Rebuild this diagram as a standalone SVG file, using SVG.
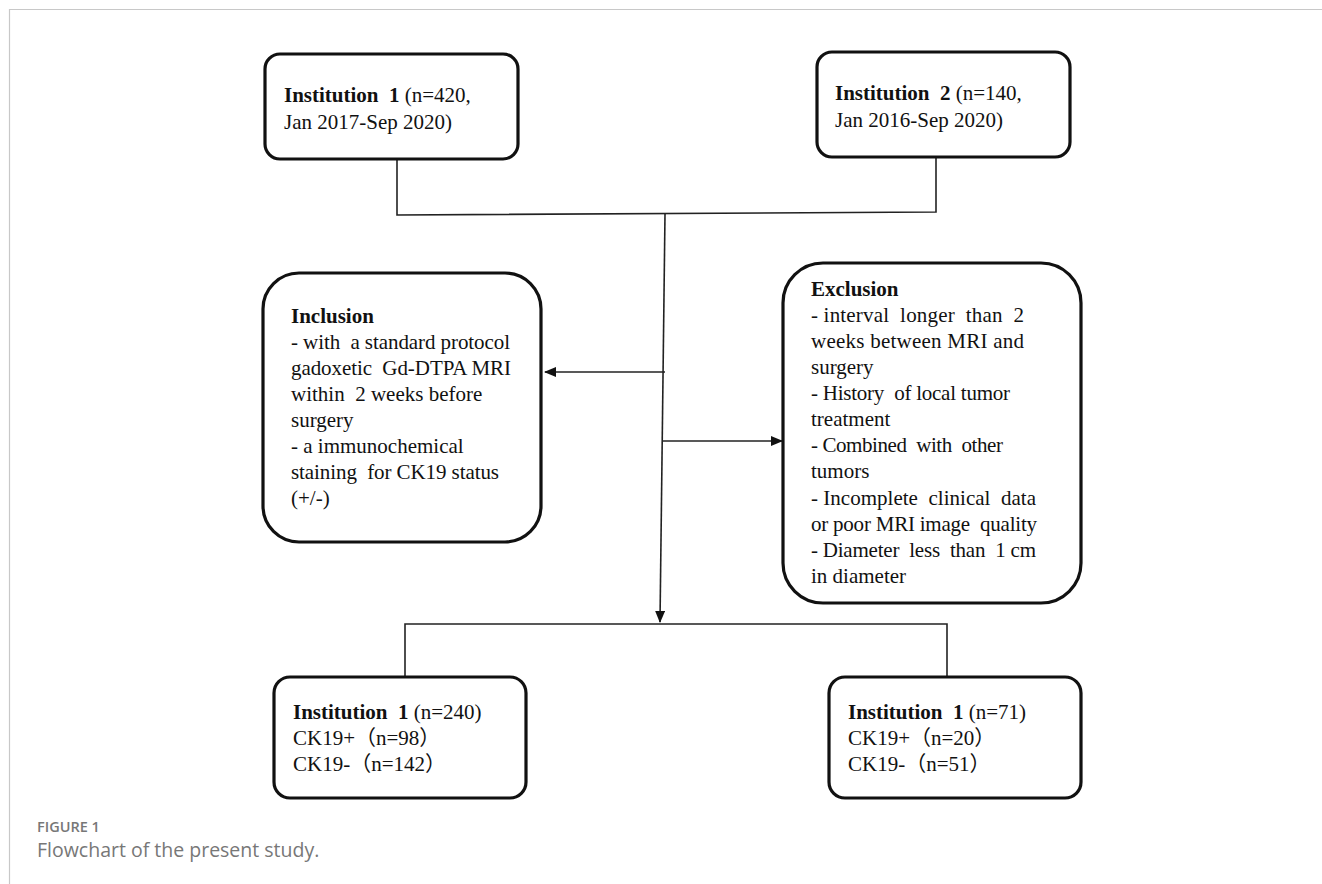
<svg xmlns="http://www.w3.org/2000/svg" width="1322" height="884" viewBox="0 0 1322 884">
<style>
.box{fill:#fff;stroke:#111;stroke-width:3.2}
.ln{fill:none;stroke:#222;stroke-width:1.6}
.t{font-family:"Liberation Serif","Noto Sans CJK SC",serif;font-size:21px;fill:#111;white-space:pre}
.b{font-weight:bold}
.cap1{font-family:"Open Sans","Liberation Sans",sans-serif;font-size:14.5px;font-weight:600;fill:#777}
.cap2{font-family:"Open Sans","Liberation Sans",sans-serif;font-size:19.5px;fill:#777}
</style>
<defs>
<marker id="ah" markerWidth="12" markerHeight="10" refX="11" refY="5" orient="auto" markerUnits="userSpaceOnUse">
<path d="M0,0 L12,5 L0,10 Z" fill="#111"/>
</marker>
</defs>
<rect width="1322" height="884" fill="#fff"/>
<path d="M9.5,884 V9.5 H1322" fill="none" stroke="#c8c8c8" stroke-width="1.2"/>
<g id="connectors">
<path class="ln" d="M397,160 V215 L936,212 V157"/>
<path class="ln" d="M665,214 L660,622" marker-end="url(#ah)"/>
<path class="ln" d="M665,372 H545" marker-end="url(#ah)"/>
<path class="ln" d="M663,441 H782" marker-end="url(#ah)"/>
<path class="ln" d="M405,678 V624 H947 V678"/>
</g>
<g id="inst1">
<rect class="box" x="265" y="54" width="253" height="105" rx="15"/>
<text class="t" x="284" y="102"><tspan class="b">Institution  1</tspan> (n=420,</text>
<text class="t" x="284" y="129">Jan 2017-Sep 2020)</text>
</g>
<g id="inst2">
<rect class="box" x="817" y="52" width="253" height="105" rx="15"/>
<text class="t" x="835" y="100"><tspan class="b">Institution  2</tspan> (n=140,</text>
<text class="t" x="835" y="127">Jan 2016-Sep 2020)</text>
</g>
<g id="inclusion">
<rect class="box" x="263" y="273" width="278" height="269" rx="36"/>
<text class="t b" x="291" y="323">Inclusion</text>
<text class="t" x="291" y="349" textLength="219" lengthAdjust="spacing">- with  a standard protocol</text>
<text class="t" x="291" y="375" textLength="220" lengthAdjust="spacing">gadoxetic  Gd-DTPA MRI</text>
<text class="t" x="291" y="401">within  2 weeks before</text>
<text class="t" x="291" y="427">surgery</text>
<text class="t" x="291" y="453">- a immunochemical</text>
<text class="t" x="291" y="479" textLength="208" lengthAdjust="spacing">staining  for CK19 status</text>
<text class="t" x="291" y="505">(+/-)</text>
</g>
<g id="exclusion">
<rect class="box" x="783" y="263" width="298" height="340" rx="40"/>
<text class="t b" x="811" y="296">Exclusion</text>
<text class="t" x="811" y="322" textLength="213" lengthAdjust="spacing">- interval  longer  than  2</text>
<text class="t" x="811" y="348" textLength="213" lengthAdjust="spacing">weeks between MRI and</text>
<text class="t" x="811" y="374">surgery</text>
<text class="t" x="811" y="400" textLength="199" lengthAdjust="spacing">- History  of local tumor</text>
<text class="t" x="811" y="426">treatment</text>
<text class="t" x="811" y="452" textLength="192" lengthAdjust="spacing">- Combined  with  other</text>
<text class="t" x="811" y="478">tumors</text>
<text class="t" x="811" y="505" textLength="225" lengthAdjust="spacing">- Incomplete  clinical  data</text>
<text class="t" x="811" y="531" textLength="226" lengthAdjust="spacing">or poor MRI image  quality</text>
<text class="t" x="811" y="557" textLength="225" lengthAdjust="spacing">- Diameter  less  than  1 cm</text>
<text class="t" x="811" y="583">in diameter</text>
</g>
<g id="out1">
<rect class="box" x="274" y="677" width="252" height="121" rx="16"/>
<text class="t" x="293" y="719"><tspan class="b">Institution  1</tspan> (n=240)</text>
<text class="t" x="293" y="745">CK19+（n=98）</text>
<text class="t" x="293" y="771">CK19-（n=142）</text>
</g>
<g id="out2">
<rect class="box" x="829" y="677" width="252" height="121" rx="16"/>
<text class="t" x="848" y="719"><tspan class="b">Institution  1</tspan> (n=71)</text>
<text class="t" x="848" y="745">CK19+（n=20）</text>
<text class="t" x="848" y="771">CK19-（n=51）</text>
</g>
<g id="caption">
<text class="cap1" x="37" y="832">FIGURE 1</text>
<text class="cap2" x="37" y="857">Flowchart of the present study.</text>
</g>
</svg>
